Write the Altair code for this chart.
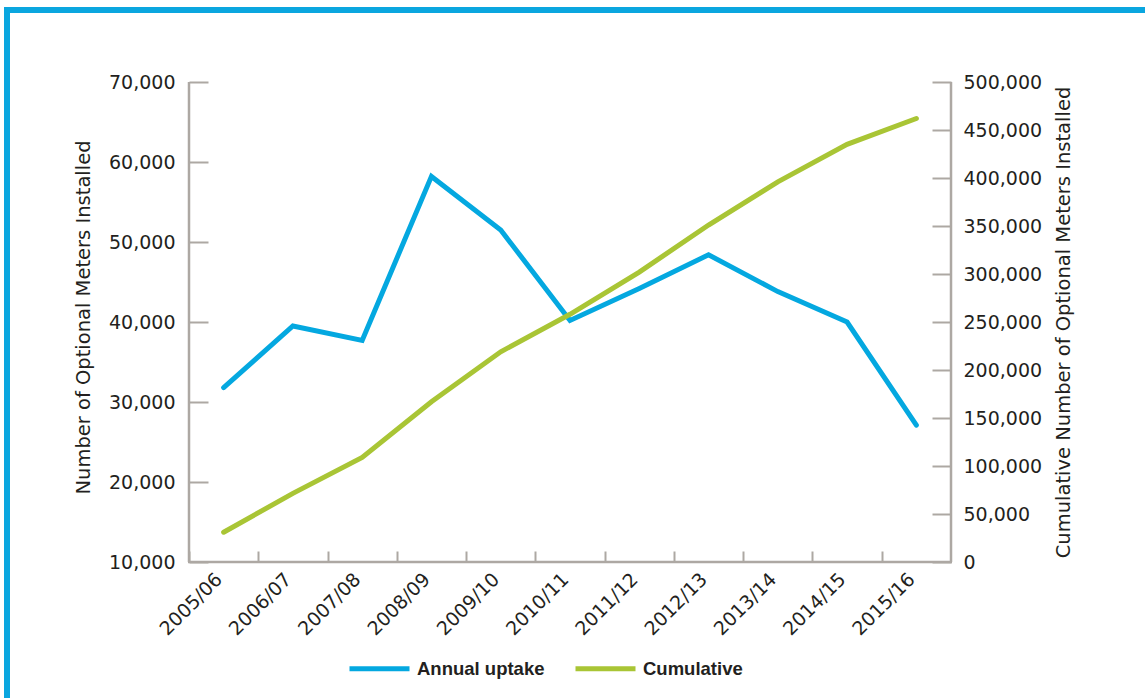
import altair as alt
import pandas as pd

years = ["2005/06", "2006/07", "2007/08", "2008/09", "2009/10", "2010/11",
         "2011/12", "2012/13", "2013/14", "2014/15", "2015/16"]
annual = [31800, 39500, 37700, 58200, 51500, 40200, 44200, 48400, 43800, 40000, 27100]
cumulative = [31000, 71500, 109000, 167000, 219000, 258000, 302000, 351000, 396000, 435000, 462000]
left_ticks = [10000, 20000, 30000, 40000, 50000, 60000, 70000]
right_ticks = [0, 50000, 100000, 150000, 200000, 250000, 300000, 350000, 400000, 450000, 500000]
series_names = ["Annual uptake", "Cumulative"]
series_colors = ["#04A8E0", "#A9C535"]

W, H = 762, 480
step = W / len(years)
AXIS_GREY = "#ADA8A3"
TEXT = "#231F20"
FONT = "DejaVu Sans"

df = pd.DataFrame({"year": years, "annual": annual, "cumulative": cumulative})
base = alt.Chart(df)

x_enc = alt.X(
    "year:N", sort=years,
    scale=alt.Scale(type="point", padding=0.5),
    axis=alt.Axis(
        title=None, domain=False, grid=False, offset=-11, tickSize=11,
        tickOffset=-step / 2, labelOffset=step / 2 - 5,
        labelAngle=315, labelAlign="right", labelBaseline="middle",
        labelPadding=14, labelFontSize=19,
    ),
)

color_scale = alt.Scale(domain=series_names, range=series_colors)
legend = alt.Legend(
    title=None, orient="none", legendX=158, legendY=554, direction="horizontal",
    symbolType="stroke", symbolSize=3600, symbolStrokeWidth=5,
    labelFont="Liberation Sans", labelFontWeight="bold", labelFontSize=18.5,
    labelColor=TEXT, labelOffset=5, columnPadding=20, labelLimit=0,
)
color_enc = alt.Color("series:N", scale=color_scale, legend=legend)

annual_line = base.transform_calculate(series=f"'{series_names[0]}'").mark_line(
    strokeWidth=5, strokeCap="round").encode(
    x=x_enc,
    y=alt.Y(
        "annual:Q",
        scale=alt.Scale(domain=[10000, 70000], nice=False, zero=False),
        axis=alt.Axis(
            orient="left", title="Number of Optional Meters Installed",
            values=left_ticks, format=",d", domain=False, grid=False,
            offset=-19, tickSize=19, labelPadding=14, labelFontSize=19,
            titleFontSize=19.5, titleFontWeight="normal", titlePadding=15,
            titleY=235,
        ),
    ),
    color=color_enc,
)

cum_line = base.transform_calculate(series=f"'{series_names[1]}'").mark_line(
    strokeWidth=5, strokeCap="round").encode(
    x=x_enc,
    y=alt.Y(
        "cumulative:Q",
        scale=alt.Scale(domain=[0, 500000], nice=False),
        axis=alt.Axis(
            orient="right", title="Cumulative Number of Optional Meters Installed",
            values=right_ticks, format=",d", domain=False, grid=False,
            offset=-19, tickSize=19, labelPadding=12, labelFontSize=19,
            titleFontSize=19.5, titleFontWeight="normal", titlePadding=13,
            titleAngle=270, titleBaseline="top",
        ),
    ),
    color=color_enc,
)

one = alt.Data(values=[{"k": 1}])
dom_left = alt.Chart(one).mark_rule(color=AXIS_GREY, strokeWidth=2.5).encode(
    x=alt.value(0), y=alt.value(0), y2=alt.value(H))
dom_right = alt.Chart(one).mark_rule(color=AXIS_GREY, strokeWidth=2.5).encode(
    x=alt.value(W), y=alt.value(0), y2=alt.value(H))
dom_bottom = alt.Chart(one).mark_rule(color=AXIS_GREY, strokeWidth=2.5).encode(
    x=alt.value(-1), x2=alt.value(W + 1), y=alt.value(H))
frame_top = alt.Chart(one).mark_rule(color="#0AA6DF", strokeWidth=6).encode(
    x=alt.value(-185), x2=alt.value(960), y=alt.value(-72))
frame_left = alt.Chart(one).mark_rule(color="#0AA6DF", strokeWidth=6).encode(
    x=alt.value(-182), y=alt.value(-75), y2=alt.value(620))

chart = alt.layer(
    frame_top, frame_left, dom_left, dom_right, dom_bottom, annual_line, cum_line
).resolve_scale(y="independent").properties(
    width=W, height=H,
    padding={"left": 189, "top": 82, "right": 194, "bottom": 136},
    autosize=alt.AutoSizeParams(type="none"),
    background="white",
).configure_view(stroke=None).configure_axis(
    labelFont=FONT, titleFont=FONT, labelColor=TEXT, titleColor=TEXT,
    tickColor=AXIS_GREY, tickWidth=2,
)

chart.save("out.html", embed_options={"renderer": "svg", "actions": False})
